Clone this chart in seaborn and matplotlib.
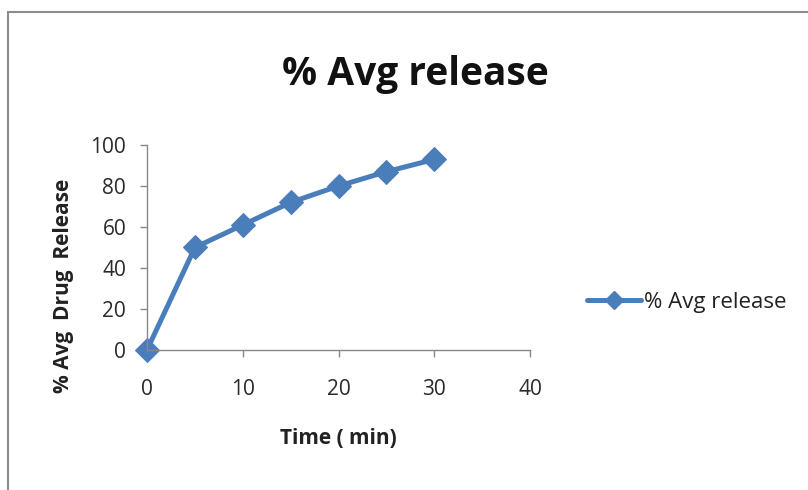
import matplotlib
matplotlib.use("Agg")
import matplotlib.pyplot as plt
import seaborn as sns
import pandas as pd
from matplotlib.patches import Rectangle

# Dissolution data
time_min = [0, 5, 10, 15, 20, 25, 30]
avg_release = [0, 50, 61, 72, 80, 87, 93]
series_name = "% Avg release"
x_ticks = [0, 10, 20, 30, 40]
y_ticks = [0, 20, 40, 60, 80, 100]

df = pd.DataFrame({"Time": time_min, "Release": avg_release, "Series": series_name})

sns.set_theme(style="ticks")
plt.rcParams["font.family"] = ["Open Sans", "DejaVu Sans"]

fig = plt.figure(figsize=(8.08, 4.90), dpi=100)
ax = fig.add_axes([0.182, 0.286, 0.474, 0.418])

color = "#4a7ebb"
sns.lineplot(data=df, x="Time", y="Release", hue="Series", palette=[color],
             marker="D", markersize=12, markeredgecolor=color, linewidth=3.6,
             ax=ax, legend=False, clip_on=False)

ax.set_xlim(0, 40)
ax.set_ylim(0, 100)
ax.set_xticks(x_ticks)
ax.set_yticks(y_ticks)
ax.tick_params(axis="both", labelsize=15, labelcolor="#2a2a2a", color="#888888",
               length=5, width=1, direction="out")
ax.tick_params(axis="y", pad=10)
ax.tick_params(axis="x", pad=16)
for s in ["top", "right"]:
    ax.spines[s].set_visible(False)
for s in ["left", "bottom"]:
    ax.spines[s].set_color("#888888")
    ax.spines[s].set_linewidth(1)

ax.set_xlabel("Time ( min)", fontsize=15, fontweight="bold", labelpad=20,
              color="#222222")
ax.set_ylabel("% Avg  Drug  Release", fontsize=15, fontweight="bold",
              color="#222222")
ax.yaxis.set_label_coords(-0.19, 0.31)

fig.text(0.514, 0.847, series_name, ha="center", va="center",
         fontsize=28, fontweight="bold", color="#111111")

# Legend entry to the right of the plot
handle = plt.Line2D([], [], color=color, marker="D", markersize=9, linewidth=3.6)
fig.legend([handle], [series_name], loc="center left",
           bbox_to_anchor=(0.702, 0.383), frameon=False, fontsize=16,
           handlelength=2.4, handletextpad=0.15, labelcolor="#222222")

# Chart-area frame
fig.patches.append(Rectangle((8 / 808, -0.05), 1.1, 1 - 12 / 490 + 0.05,
                             transform=fig.transFigure, fill=False,
                             edgecolor="#8c8c8c", linewidth=1.5))

fig.savefig("out.png", dpi=100)
